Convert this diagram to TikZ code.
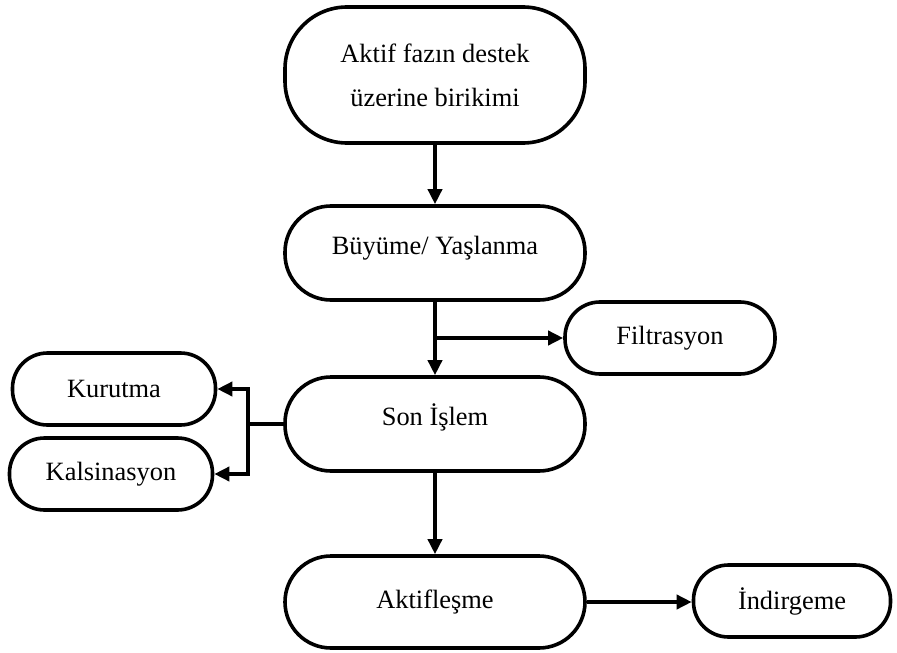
\documentclass[tikz,border=0pt]{standalone}
\usepackage{fontspec}
\setmainfont{Liberation Serif}
\usetikzlibrary{arrows.meta}

\begin{document}
\begin{tikzpicture}[x=1bp, y=-1bp, line width=3.6bp,
  every node/.style={font=\fontsize{26.5}{44}\selectfont},
  bigstep/.style={draw, rounded corners=46bp, minimum width=300bp, minimum height=94bp, align=center, inner sep=0pt},
  smallstep/.style={draw, rounded corners=35bp, minimum width=203bp, minimum height=72bp, inner sep=0pt},
  raised/.style={text height=19bp, text depth=16bp},
  arr/.style={-{Triangle[length=15bp,width=14bp]}}]
  \useasboundingbox (0,0) rectangle (897,653);
  \node[bigstep,minimum height=136bp,rounded corners=62bp] (birikim) at (435,75) {Aktif fazın destek\\üzerine birikimi};
  \node[bigstep,raised] (buyume) at (435,253) {Büyüme/ Yaşlanma};
  \node[smallstep,minimum width=210bp] (filtre) at (670,338) {Filtrasyon};
  \node[bigstep,raised] (sonislem) at (435,424) {Son İşlem};
  \node[smallstep] (kurutma) at (114,389) {Kurutma};
  \node[smallstep] (kalsin) at (111,474) {Kalsinasyon};
  \node[bigstep,minimum height=92bp] (aktif) at (435,602) {Aktifleşme};
  \node[smallstep,minimum width=197bp] (indirge) at (792,601) {İndirgeme};
  % main line
  \draw[arr] (birikim) -- (buyume);
  \draw[arr] (buyume) -- (sonislem);
  \draw[arr] (buyume.south |- filtre.west) -- (filtre.west);
  \draw[arr] (sonislem) -- (aktif);
  \draw[arr] (aktif.east) -- (indirge.west |- aktif.east);
  % side treatments
  \coordinate (ayrim) at (248,424);
  \draw (sonislem.west) -- (ayrim);
  \draw[arr] (ayrim) |- (kurutma.east);
  \draw[arr] (ayrim) |- (kalsin.east);
\end{tikzpicture}
\end{document}
